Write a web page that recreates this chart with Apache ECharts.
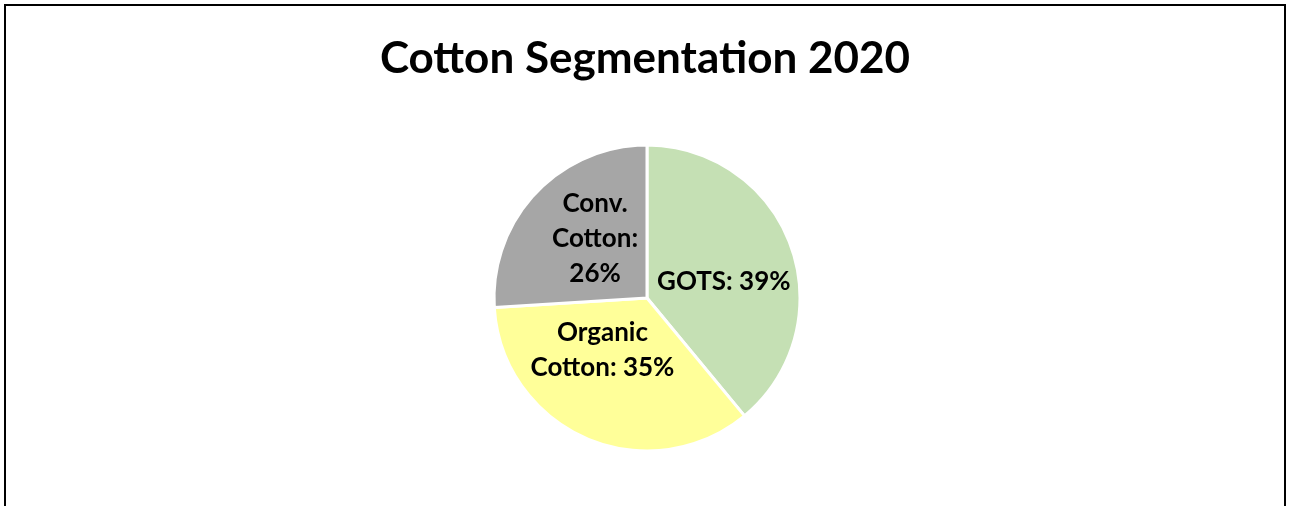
<!DOCTYPE html>
<html>
<head>
<meta charset="utf-8">
<script src="https://cdn.jsdelivr.net/npm/echarts@6/dist/echarts.min.js"></script>
<style>
html,body{margin:0;padding:0;background:#fff;}
#frame{position:absolute;left:4px;top:4px;width:1282px;height:520px;border:2px solid #000;box-sizing:border-box;}
#chart{position:absolute;left:0;top:0;width:1290px;height:506px;}
</style>
</head>
<body>
<div id="frame"></div>
<div id="chart"></div>
<script>
const categories = ['GOTS', 'Organic\nCotton', 'Conv.\nCotton'];
const values = [39, 35, 26];
const colors = ['#C5E0B4', '#FFFF99', '#A6A6A6'];
const labelOffsets = [[2, 11], [-13, -21], [6, -5]];

const chart = echarts.init(document.getElementById('chart'));
const data = categories.map((c, i) => ({
  name: c,
  value: values[i],
  itemStyle: { color: colors[i] },
  label: { offset: labelOffsets[i] }
}));
chart.setOption({
  animation: false,
  title: {
    text: 'Cotton Segmentation 2020',
    left: 'center',
    top: 32,
    textStyle: { fontFamily: 'Lato', fontWeight: 'bold', fontSize: 44, color: '#000' }
  },
  series: [{
    type: 'pie',
    center: [647, 298],
    radius: 153,
    startAngle: 90,
    clockwise: true,
    data: data,
    itemStyle: { borderColor: '#fff', borderWidth: 3 },
    label: {
      show: true,
      position: 'inside',
      fontFamily: 'Lato',
      fontWeight: 'bold',
      fontSize: 26,
      lineHeight: 35,
      color: '#000',
      formatter: p => {
        const nm = p.name;
        if (nm.startsWith('Conv')) return 'Conv.\nCotton:\n' + p.value + '%';
        if (nm.startsWith('Organic')) return 'Organic\nCotton: ' + p.value + '%';
        return nm + ': ' + p.value + '%';
      }
    },
    labelLine: { show: false },
    emphasis: { disabled: true }
  }]
});
</script>
</body>
</html>
